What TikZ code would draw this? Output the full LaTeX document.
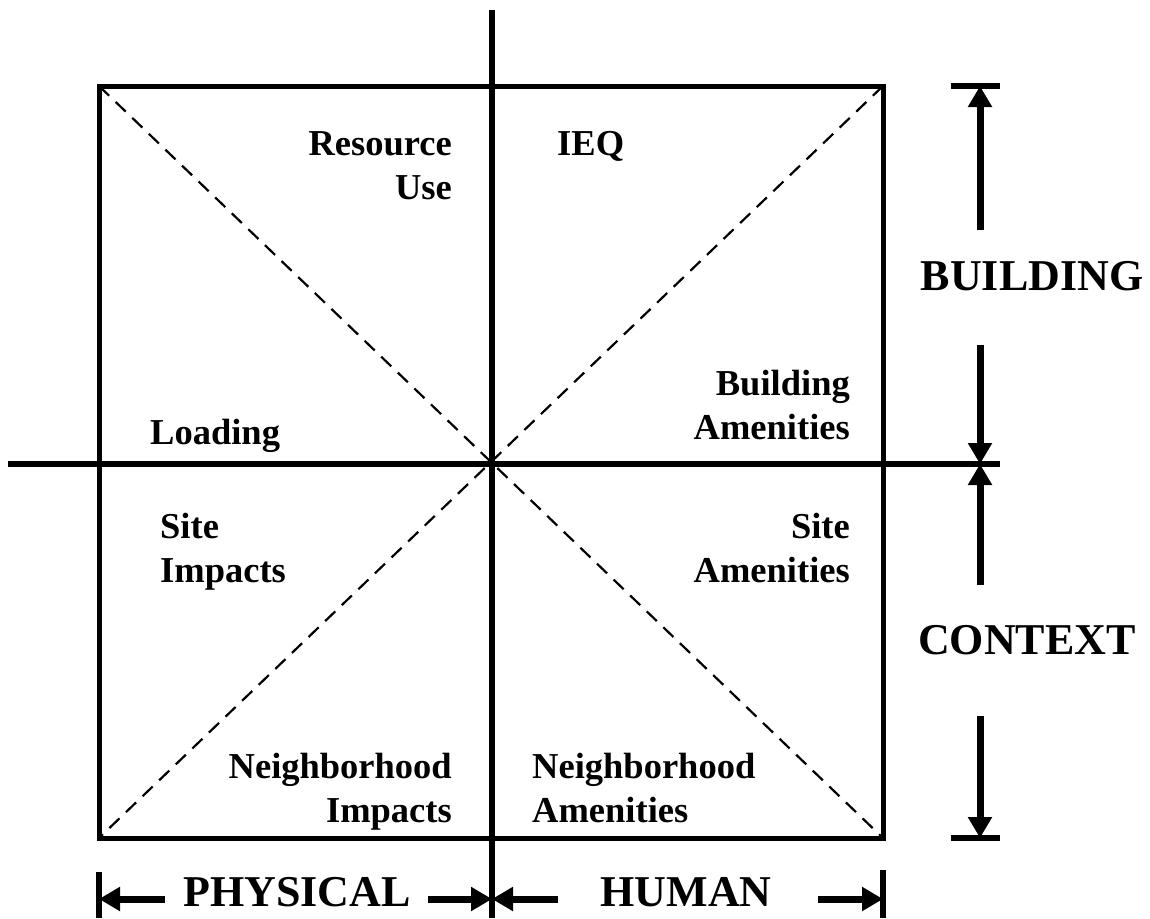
\documentclass[tikz,border=0pt]{standalone}
\usepackage{fontspec}
\setmainfont{Liberation Serif}
\usetikzlibrary{arrows.meta}
\begin{document}
\begin{tikzpicture}[
                        x=1pt, y=-1pt,
                        >={Triangle[length=21pt,width=23pt]},
                        frame/.style={line width=5pt},
                        axis/.style={line width=5.5pt},
                        diag/.style={line width=2.2pt, dash pattern=on 14pt off 9pt},
                        dim/.style={line width=7pt},
                        endbar/.style={line width=6pt},
                        lbl/.style={font=\fontsize{36.5}{44}\selectfont\bfseries, inner sep=0pt},
                        big/.style={font=\fontsize{44}{52}\selectfont\bfseries, inner sep=0pt}
                    ]
                    \useasboundingbox (0,0) rectangle (1150,918);
                    % Frame and axes
                    \coordinate (NW) at (99,86);
                    \coordinate (NE) at (883,86);
                    \coordinate (SW) at (99,838);
                    \coordinate (SE) at (883,838);
                    \coordinate (axtop) at (492,10);
                    \coordinate (axbot) at (492,918);
                    \coordinate (axleft) at (8,464);
                    \coordinate (axright) at (1000,464);
                    \draw [frame] (NW) rectangle (SE);
                    \draw [diag] (NW) -- (SE);
                    \draw [diag] (NE) -- (SW);
                    \draw [axis] (axtop) -- (axbot);
                    \draw [axis] (axleft) -- (axright);

                    % Labels (base = last line)
                    \node [lbl, align=right, anchor=base east] (resource) at (452,199) {Resource\\Use};
                    \node [lbl, anchor=base west] (ieq) at (557,155) {IEQ};
                    \node [lbl, align=right, anchor=base east] (bamen) at (850,439) {Building\\Amenities};
                    \node [lbl, anchor=base west] (loading) at (150,444) {Loading};
                    \node [lbl, align=left, anchor=base west] (simp) at (160,582) {Site\\Impacts};
                    \node [lbl, align=right, anchor=base east] (samen) at (850,582) {Site\\Amenities};
                    \node [lbl, align=right, anchor=base east] (nimp) at (452,822) {Neighborhood\\Impacts};
                    \node [lbl, align=left, anchor=base west] (namen) at (532,822) {Neighborhood\\Amenities};

                    % Scale on the right
                    \coordinate (rt1) at (951,86);
                    \coordinate (rt2) at (1000,86);
                    \coordinate (rb1) at (951,838);
                    \coordinate (rb2) at (1000,838);
                    \coordinate (up1s) at (980,230);
                    \coordinate (up1e) at (980,86);
                    \coordinate (dn1s) at (980,345);
                    \coordinate (dn1e) at (980,464);
                    \coordinate (up2s) at (980,585);
                    \coordinate (up2e) at (980,464);
                    \coordinate (dn2s) at (980,716);
                    \coordinate (dn2e) at (980,838);
                    \node [big, anchor=base] (building) at (1032,290) {BUILDING};
                    \node [big, anchor=base] (context) at (1027,654) {CONTEXT};
                    \draw [endbar] (rt1) -- (rt2);
                    \draw [endbar] (rb1) -- (rb2);
                    \draw [dim,->] (up1s) -- (up1e);
                    \draw [dim,->] (dn1s) -- (dn1e);
                    \draw [dim,->] (up2s) -- (up2e);
                    \draw [dim,->] (dn2s) -- (dn2e);

                    % Scale at the bottom
                    \coordinate (bl1) at (99,872);
                    \coordinate (bl2) at (99,918);
                    \coordinate (br1) at (883,870);
                    \coordinate (br2) at (883,918);
                    \coordinate (lf1s) at (165,899);
                    \coordinate (lf1e) at (99,899);
                    \coordinate (rg1s) at (428,899);
                    \coordinate (rg1e) at (492,899);
                    \coordinate (lf2s) at (558,899);
                    \coordinate (lf2e) at (492,899);
                    \coordinate (rg2s) at (818,899);
                    \coordinate (rg2e) at (883,899);
                    \node [big, anchor=base] (physical) at (297,906) {PHYSICAL};
                    \node [big, anchor=base] (human) at (686,906) {HUMAN};
                    \draw [endbar] (bl1) -- (bl2);
                    \draw [endbar] (br1) -- (br2);
                    \draw [dim,->] (lf1s) -- (lf1e);
                    \draw [dim,->] (rg1s) -- (rg1e);
                    \draw [dim,->] (lf2s) -- (lf2e);
                    \draw [dim,->] (rg2s) -- (rg2e);
                \end{tikzpicture}
\end{document}
